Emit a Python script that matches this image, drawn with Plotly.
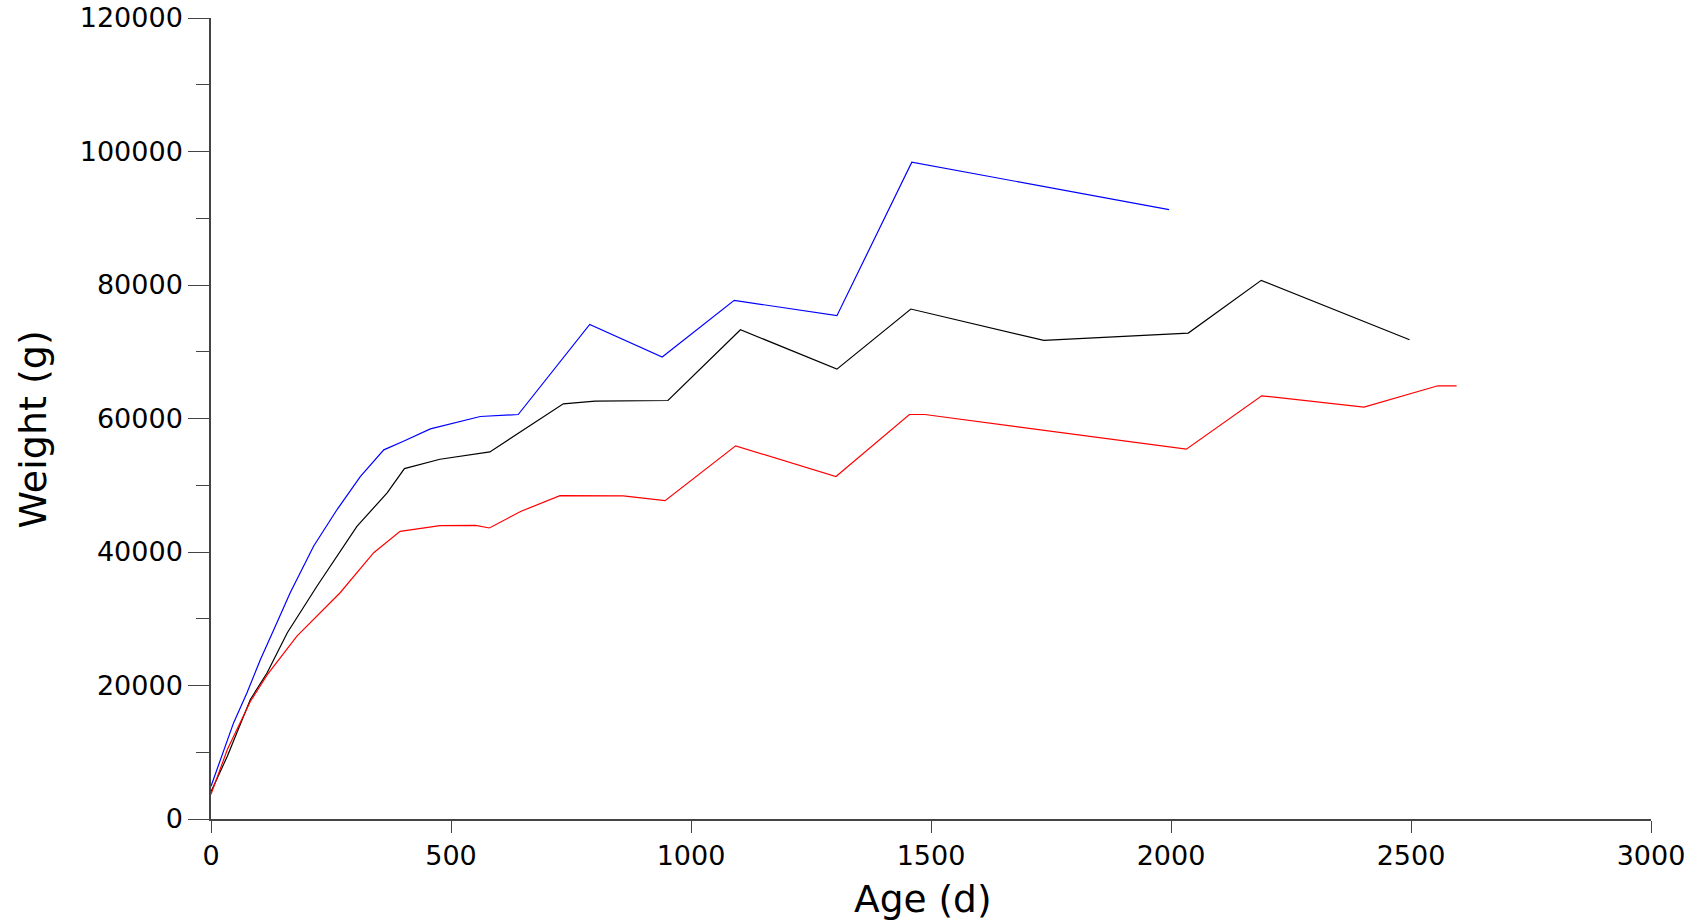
import plotly.graph_objects as go

# Age (d) and weight (g) for each series
blue_age = [0, 20, 47, 75, 103, 131, 165, 214, 263, 311, 360, 401, 457, 561, 640, 789, 940, 1090, 1304, 1460, 1996]
blue_wt = [4900, 8900, 14400, 18900, 23900, 28400, 33900, 40900, 46400, 51300, 55300, 56600, 58450, 60300, 60600, 74100, 69200, 77700, 75400, 98400, 91300]

black_age = [0, 34, 82, 117, 159, 221, 304, 367, 403, 477, 581, 734, 800, 952, 1103, 1304, 1458, 1735, 2036, 2188, 2497]
black_wt = [4100, 9400, 17900, 21900, 27900, 34900, 43850, 48850, 52500, 53900, 55000, 62200, 62600, 62700, 73300, 67400, 76400, 71700, 72800, 80700, 71800]

red_age = [0, 34, 82, 117, 179, 221, 269, 339, 394, 477, 551, 580, 646, 727, 859, 946, 1093, 1302, 1455, 1487, 2032, 2189, 2229, 2402, 2556, 2595]
red_wt = [3700, 10400, 17600, 21600, 27400, 30400, 33900, 39900, 43100, 43950, 44000, 43600, 46100, 48450, 48400, 47700, 55900, 51300, 60600, 60600, 55400, 63400, 63100, 61700, 64900, 64900]

x_ticks = [0, 500, 1000, 1500, 2000, 2500, 3000]
y_ticks = [0, 20000, 40000, 60000, 80000, 100000, 120000]
x_title = "Age (d)"
y_title = "Weight (g)"

fig = go.Figure()
for xs, ys, col in [(black_age, black_wt, "#000000"),
                    (red_age, red_wt, "#ff0000"),
                    (blue_age, blue_wt, "#0000ff")]:
    fig.add_trace(go.Scatter(x=xs, y=ys, mode="lines",
                             line=dict(color=col, width=1.2),
                             showlegend=False, hoverinfo="x+y"))

axis_col = "#444444"
font_fam = "DejaVu Sans"

fig.update_layout(
    width=1694, height=922,
    margin=dict(l=211, r=43, t=18, b=103),
    paper_bgcolor="white", plot_bgcolor="white",
    font=dict(family=font_fam, color="#000000"),
    xaxis=dict(
        range=[0, 3000], tickvals=x_ticks, ticktext=[str(v) for v in x_ticks],
        showgrid=False, zeroline=False, automargin=False,
        showline=True, linecolor=axis_col, linewidth=1.5,
        ticks="outside", ticklen=12, tickwidth=1.3, tickcolor=axis_col,
        tickfont=dict(size=27, family=font_fam, color="#000000"),
    ),
    yaxis=dict(
        range=[0, 120000], tickvals=y_ticks, ticktext=[str(v) for v in y_ticks],
        showgrid=False, zeroline=False, automargin=False,
        showline=True, linecolor=axis_col, linewidth=1.5,
        ticks="outside", ticklen=21, tickwidth=1.3, tickcolor=axis_col,
        tickfont=dict(size=27, family=font_fam, color="#000000"),
        minor=dict(dtick=10000, tick0=0, ticks="outside", ticklen=13, tickwidth=1.3, tickcolor=axis_col, showgrid=False),
    ),
    annotations=[
        dict(text=x_title, xref="paper", yref="paper", x=0.4941, y=-0.0999,
             xanchor="center", yanchor="middle", showarrow=False,
             font=dict(size=37.5, family=font_fam, color="#000000")),
        dict(text=y_title, xref="paper", yref="paper", x=-0.1236, y=0.4863,
             xanchor="center", yanchor="middle", showarrow=False, textangle=-90,
             font=dict(size=38, family=font_fam, color="#000000")),
    ],
)

fig.write_html("out.html", config={"displayModeBar": False},
               post_script="document.body.style.margin='0';document.body.style.overflow='hidden';")
